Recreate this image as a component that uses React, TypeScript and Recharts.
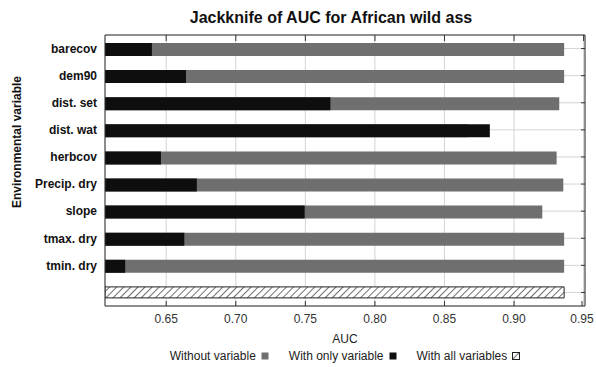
import { Bar, BarChart, CartesianGrid, Legend, XAxis, YAxis } from "recharts";

// Maxent jackknife of training AUC, African wild ass
const variables = [
  "barecov",
  "dem90",
  "dist. set",
  "dist. wat",
  "herbcov",
  "Precip. dry",
  "slope",
  "tmax. dry",
  "tmin. dry",
];
const withoutVariable = [0.936, 0.936, 0.9325, 0.867, 0.9306, 0.9354, 0.9203, 0.936, 0.936];
const withOnlyVariable = [0.6397, 0.6642, 0.768, 0.8826, 0.6462, 0.672, 0.7495, 0.663, 0.6205];
const withAllVariables = 0.936;
const aucTicks = [0.65, 0.7, 0.75, 0.8, 0.85, 0.9, 0.95];
const aucDomain = [0.606, 0.951];
const legendOrder = ["without", "only", "all"];

const GRAY = "#6f6f6f";
const BLACK = "#0e0e0e";
const FRAME = "#333";

const data = [
  ...variables.map((name, i) => ({
    name,
    without: withoutVariable[i],
    only: withOnlyVariable[i],
  })),
  { name: "", all: withAllVariables },
];

function AucTick({ x, y, payload }: any) {
  return (
    <g>
      <line x1={x} x2={x} y1={y} y2={y - 5} stroke={FRAME} />
      <text x={x} y={y + 17} textAnchor="middle" fontSize={12} fill="#333">
        {Number(payload.value).toFixed(2)}
      </text>
    </g>
  );
}

function LegendContent({ payload }: any) {
  const items = [...(payload || [])].sort(
    (a: any, b: any) => legendOrder.indexOf(a.dataKey) - legendOrder.indexOf(b.dataKey)
  );
  return (
    <div
      style={{
        display: "flex",
        justifyContent: "center",
        gap: 20,
        fontSize: 12,
        lineHeight: "18px",
        color: "#222",
      }}
    >
      {items.map((p: any) => (
        <span key={p.value} style={{ display: "flex", alignItems: "center" }}>
          {p.value}
          <svg width={8} height={8} style={{ marginLeft: 5 }}>
            <rect
              x={0.5}
              y={0.5}
              width={7}
              height={7}
              fill={p.color}
              stroke={p.dataKey === "all" ? "#222" : "none"}
            />
          </svg>
        </span>
      ))}
    </div>
  );
}

export default function App() {
  return (
    <div
      style={{
        position: "absolute",
        left: 0,
        top: 0,
        width: 596,
        height: 367,
        background: "#fff",
        fontFamily: "'Liberation Sans', Arial, sans-serif",
      }}
    >
      <div
        style={{
          position: "absolute",
          left: 331,
          top: 8,
          transform: "translateX(-50%)",
          whiteSpace: "nowrap",
          fontSize: 16,
          fontWeight: 700,
          lineHeight: "20px",
          color: "#111",
        }}
      >
        Jackknife of AUC for African wild ass
      </div>
      <div
        style={{
          position: "absolute",
          left: 17,
          top: 142,
          transform: "translate(-50%, -50%) rotate(-90deg)",
          whiteSpace: "nowrap",
          fontSize: 12,
          fontWeight: 700,
          color: "#111",
        }}
      >
        Environmental variable
      </div>
      <BarChart
        width={596}
        height={367}
        data={data}
        layout="vertical"
        margin={{ top: 35, right: 11, bottom: 0, left: 0 }}
        barGap={-13}
      >
        <defs>
          <pattern
            id="hatch"
            width={5}
            height={5}
            patternUnits="userSpaceOnUse"
            patternTransform="rotate(45)"
          >
            <rect width={5} height={5} fill="#fff" />
            <line x1={0} y1={0} x2={0} y2={5} stroke="#222" strokeWidth={1.3} />
          </pattern>
        </defs>
        <CartesianGrid stroke="#d4d4d4" />
        <XAxis
          type="number"
          domain={aucDomain}
          ticks={aucTicks}
          allowDataOverflow
          height={43}
          axisLine={{ stroke: FRAME }}
          tickLine={false}
          tickSize={0}
          tickMargin={0}
          tick={<AucTick />}
          label={{
            value: "AUC",
            position: "insideBottom",
            offset: 6,
            fontSize: 12,
            fill: "#222",
          }}
        />
        <XAxis
          xAxisId="top"
          orientation="top"
          mirror
          type="number"
          domain={aucDomain}
          ticks={aucTicks}
          allowDataOverflow
          height={1}
          axisLine={{ stroke: FRAME }}
          tickLine={{ stroke: FRAME }}
          tickSize={6}
          tick={() => <g />}
        />
        <YAxis
          type="category"
          dataKey="name"
          width={105}
          axisLine={{ stroke: FRAME }}
          tickLine={false}
          tickSize={0}
          tickMargin={8}
          tick={{ fontSize: 12, fontWeight: 700, fill: "#111" }}
        />
        <YAxis
          yAxisId="right"
          orientation="right"
          mirror
          type="category"
          dataKey="name"
          width={1}
          axisLine={{ stroke: FRAME }}
          tickLine={{ stroke: FRAME }}
          tickSize={4}
          tick={() => <g />}
        />
        <Legend
          verticalAlign="bottom"
          height={18}
          wrapperStyle={{ left: 105, width: 480, top: 347 }}
          content={<LegendContent />}
        />
        <Bar
          dataKey="without"
          name="Without variable"
          fill={GRAY}
          barSize={13}
          isAnimationActive={false}
        />
        <Bar
          dataKey="only"
          name="With only variable"
          fill={BLACK}
          barSize={13}
          isAnimationActive={false}
        />
        <Bar
          dataKey="all"
          name="With all variables"
          fill="url(#hatch)"
          stroke="#222"
          barSize={11}
          isAnimationActive={false}
        />
      </BarChart>
    </div>
  );
}
